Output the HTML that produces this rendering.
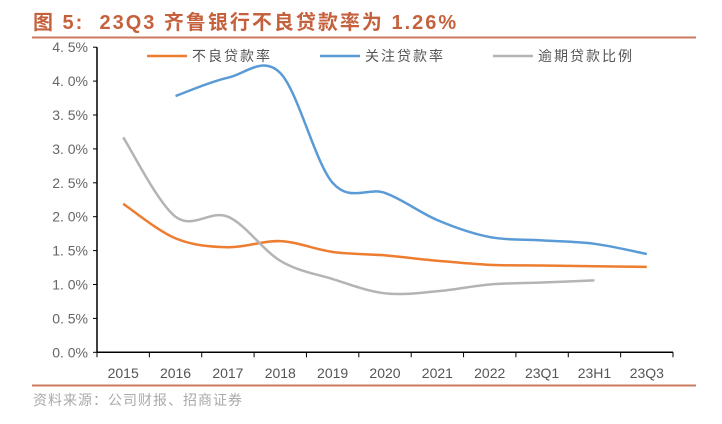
<!DOCTYPE html>
<html><head><meta charset="utf-8"><style>
body{margin:0;background:#fff;width:722px;height:419px;overflow:hidden;font-family:"Liberation Sans","Noto Sans CJK SC",sans-serif}
</style></head><body>
<svg width="722" height="419" xmlns="http://www.w3.org/2000/svg">
<text x="33" y="29" font-size="20" font-weight="bold" fill="#c5623d" letter-spacing="2" font-family="Liberation Sans,Noto Sans CJK SC,sans-serif" xml:space="preserve">图 5:  23Q3 齐鲁银行不良贷款率为 1.26%</text>
<line x1="32" y1="37.5" x2="696" y2="37.5" stroke="#c97a60" stroke-width="2"/>
<line x1="32" y1="385.5" x2="696" y2="385.5" stroke="#c97a60" stroke-width="2"/>
<text x="33" y="405" font-size="14" fill="#aaa" letter-spacing="1" font-family="Liberation Sans,Noto Sans CJK SC,sans-serif">资料来源：公司财报、招商证券</text>
<g id="axes"></g>
<g id="series"></g>
<g id="legend"></g>
</svg>
<script>
const categories=["2015","2016","2017","2018","2019","2020","2021","2022","23Q1","23H1","23Q3"];
const nplValues=[2.19,1.68,1.55,1.64,1.48,1.43,1.35,1.29,1.28,1.27,1.26];
const attentionValues=[null,3.78,4.05,4.12,2.5,2.35,1.95,1.70,1.65,1.60,1.45];
const overdueValues=[3.17,2.00,2.00,1.35,1.08,0.87,0.90,1.00,1.03,1.06,null];
const yTicks=[0,0.5,1,1.5,2,2.5,3,3.5,4,4.5];
const seriesNames=["不良贷款率","关注贷款率","逾期贷款比例"];
const NS="http://www.w3.org/2000/svg";
const X0=97,X1=673,Y0=352.3,PER=67.8;
const bw=(X1-X0)/categories.length;
const xs=i=>X0+bw*(i+0.5);
const ys=v=>Y0-v*PER;
function mk(t,a,p){const e=document.createElementNS(NS,t);for(const k in a)e.setAttribute(k,a[k]);p.appendChild(e);return e;}
const axes=document.getElementById('axes');
const yax=mk('line',{x1:X0,y1:ys(4.5),x2:X0,y2:Y0,stroke:'#000','stroke-width':1.5},axes);


const xax=mk('line',{x1:X0,y1:Y0,x2:X1,y2:Y0,stroke:'#000','stroke-width':1.5},axes);


yTicks.forEach(v=>{
 mk('line',{x1:X0-4,y1:ys(v),x2:X0,y2:ys(v),stroke:'#000'},axes);
 const t=mk('text',{x:X0-9,y:ys(v)+5,'text-anchor':'end','font-size':14,fill:'#666'},axes);
 t.textContent=v.toFixed(1).replace('.','. ')+'%';
 
 
});
for(let i=0;i<=categories.length;i++)mk('line',{x1:X0+bw*i,y1:Y0,x2:X0+bw*i,y2:Y0+5,stroke:'#000'},axes);
categories.forEach((c,i)=>{
 const t=mk('text',{x:xs(i),y:378,'text-anchor':'middle','font-size':14,fill:'#555'},axes);
 t.textContent=c;
 
 
});
function smooth(pts){
 let d=`M${pts[0][0]},${pts[0][1]}`;
 for(let i=0;i<pts.length-1;i++){
  const p0=pts[i-1]||pts[i],p1=pts[i],p2=pts[i+1],p3=pts[i+2]||p2;
  const c1=[p1[0]+(p2[0]-p0[0])/6,p1[1]+(p2[1]-p0[1])/6],c2=[p2[0]-(p3[0]-p1[0])/6,p2[1]-(p3[1]-p1[1])/6];
  d+=` C${c1[0]},${c1[1]} ${c2[0]},${c2[1]} ${p2[0]},${p2[1]}`;
 }
 return d;
}
const ser=document.getElementById('series');
const colors=['#ed7d31','#5b9bd5','#b4b4b4'];
[nplValues,attentionValues,overdueValues].forEach((vals,k)=>{
 const pts=[];vals.forEach((v,i)=>{if(v!==null)pts.push([xs(i),ys(v)]);});
 const p=mk('path',{d:smooth(pts),fill:'none',stroke:colors[k],'stroke-width':2.5},ser);
 
 
});
const lg=document.getElementById('legend');
const lx=[147,320,493];
seriesNames.forEach((n,k)=>{
 mk('line',{x1:lx[k],y1:56,x2:lx[k]+40,y2:56,stroke:colors[k],'stroke-width':2.5},lg);
 const t=mk('text',{x:lx[k]+45,y:61,'font-size':14,fill:'#555','letter-spacing':2},lg);
 t.textContent=n;
 
 
});
</script>
</body></html>
